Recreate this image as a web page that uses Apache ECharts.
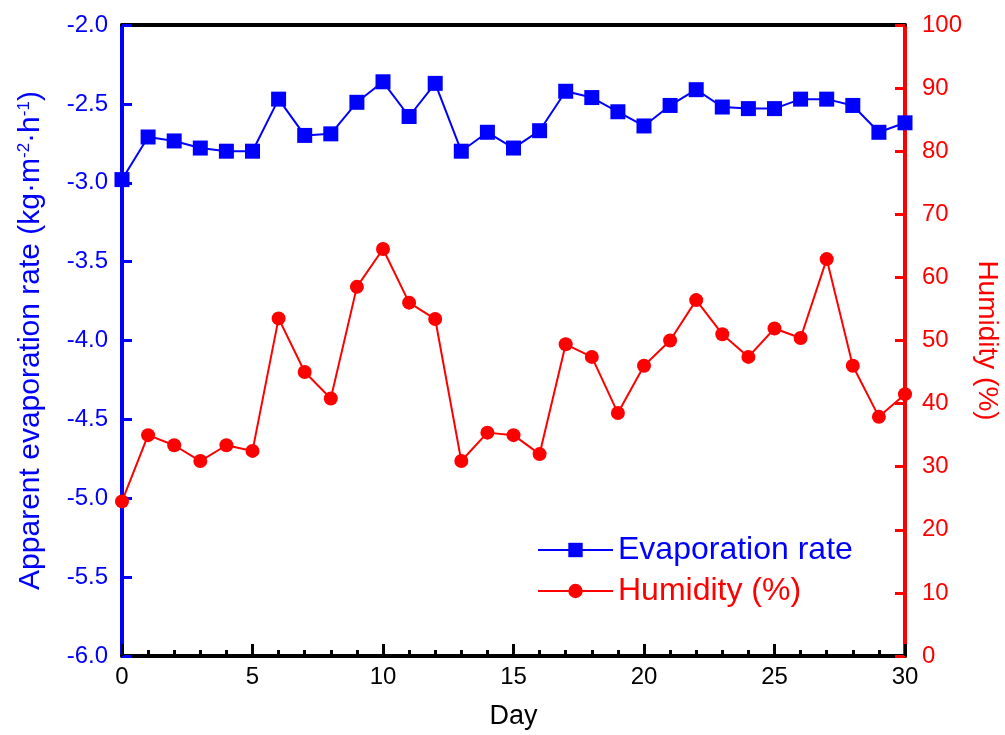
<!DOCTYPE html>
<html>
<head>
<meta charset="utf-8">
<script src="https://cdn.jsdelivr.net/npm/echarts@6/dist/echarts.min.js"></script>
<style>
  html, body { margin: 0; padding: 0; background: #fff; }
  #chart { width: 1005px; height: 735px; }
</style>
</head>
<body>
<div id="chart"></div>
<script>
var days = [0, 1, 2, 3, 4, 5, 6, 7, 8, 9, 10, 11, 12, 13, 14, 15,
            16, 17, 18, 19, 20, 21, 22, 23, 24, 25, 26, 27, 28, 29, 30];
var evapRate = [-2.98, -2.71, -2.735, -2.78, -2.80, -2.80, -2.47, -2.70, -2.69, -2.49, -2.36,
                -2.58, -2.37, -2.80, -2.68, -2.78, -2.67, -2.42, -2.46, -2.55, -2.64,
                -2.51, -2.41, -2.52, -2.53, -2.53, -2.47, -2.47, -2.51, -2.68, -2.62];
var humidity = [24.5, 35.0, 33.4, 30.9, 33.4, 32.5, 53.5, 45.0, 40.8, 58.5, 64.5,
                56.0, 53.4, 30.9, 35.4, 35.0, 32.0, 49.4, 47.4, 38.5, 46.0,
                50.0, 56.4, 51.0, 47.4, 51.9, 50.4, 62.9, 46.0, 37.9, 41.5];

var FONT = 'Liberation Sans, Arial, sans-serif';
var BLUE = '#0000ff';
var RED = '#ff0000';

const chart = echarts.init(document.getElementById('chart'), null, { renderer: 'canvas' });

chart.setOption({
    animation: false,
    textStyle: { fontFamily: FONT },
    grid: {
        left: 122,
        right: 100,
        top: 25,
        bottom: 79,
        containLabel: false,
        outerBoundsMode: 'none'
    },
    legend: {
        orient: 'vertical',
        left: 532,
        top: 529,
        itemWidth: 75,
        itemHeight: 18,
        itemGap: 9,
        textStyle: { fontSize: 32, fontFamily: FONT },
        data: [
            { name: 'Evaporation rate', textStyle: { color: BLUE } },
            { name: 'Humidity (%)', textStyle: { color: RED } }
        ]
    },
    xAxis: [
        {
            type: 'value',
            min: 0,
            max: 30,
            interval: 5,
            name: 'Day',
            nameLocation: 'middle',
            nameGap: 47,
            nameTextStyle: { color: '#000', fontSize: 27, fontFamily: FONT },
            axisLine: { onZero: false, lineStyle: { color: '#000', width: 4 } },
            axisTick: { inside: true, length: 12, lineStyle: { color: '#000', width: 3 } },
            minorTick: { show: true, splitNumber: 5, length: 6, lineStyle: { color: '#000', width: 3 } },
            axisLabel: { color: '#000', fontSize: 24, margin: 9, fontFamily: FONT },
            splitLine: { show: false }
        },
        {
            type: 'value',
            position: 'top',
            min: 0,
            max: 30,
            axisLine: { onZero: false, lineStyle: { color: '#000', width: 4 } },
            axisTick: { show: false },
            axisLabel: { show: false },
            splitLine: { show: false }
        }
    ],
    yAxis: [
        {
            type: 'value',
            min: -6,
            max: -2,
            interval: 0.5,
            name: 'Apparent evaporation rate (kg·m{sup|-2}·h{sup|-1})',
            nameLocation: 'middle',
            nameGap: 76,
            nameTextStyle: {
                color: BLUE,
                fontSize: 30,
                fontFamily: FONT,
                rich: {
                    sup: { fontSize: 17, color: BLUE, verticalAlign: 'top', fontFamily: FONT }
                }
            },
            axisLine: { onZero: false, lineStyle: { color: BLUE, width: 4 } },
            axisTick: { inside: true, length: 10, lineStyle: { color: BLUE, width: 3 } },
            axisLabel: {
                color: BLUE,
                fontSize: 24,
                margin: 14,
                fontFamily: FONT,
                formatter: function (v) { return v.toFixed(1); }
            },
            splitLine: { show: false }
        },
        {
            type: 'value',
            min: 0,
            max: 100,
            interval: 10,
            position: 'right',
            name: 'Humidity (%)',
            nameLocation: 'middle',
            nameRotate: -90,
            nameGap: 64,
            nameTextStyle: { color: RED, fontSize: 28, fontFamily: FONT },
            axisLine: { onZero: false, lineStyle: { color: RED, width: 4 } },
            axisTick: { inside: true, length: 10, lineStyle: { color: RED, width: 3 } },
            axisLabel: { color: RED, fontSize: 24, margin: 17, fontFamily: FONT },
            splitLine: { show: false }
        }
    ],
    series: [
        {
            name: 'Evaporation rate',
            type: 'line',
            xAxisIndex: 0,
            yAxisIndex: 0,
            data: days.map((d, i) => [d, evapRate[i]]),
            symbol: 'rect',
            symbolSize: 15,
            itemStyle: { color: BLUE },
            lineStyle: { color: BLUE, width: 2 },
            z: 3
        },
        {
            name: 'Humidity (%)',
            type: 'line',
            xAxisIndex: 0,
            yAxisIndex: 1,
            data: days.map((d, i) => [d, humidity[i]]),
            symbol: 'circle',
            symbolSize: 14,
            itemStyle: { color: RED },
            lineStyle: { color: RED, width: 2 },
            z: 3
        }
    ]
});
</script>
</body>
</html>
